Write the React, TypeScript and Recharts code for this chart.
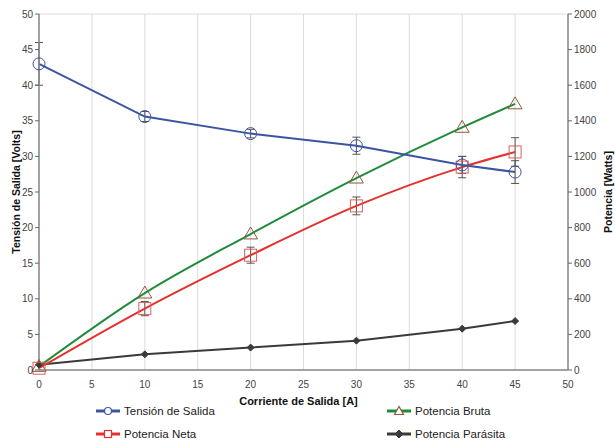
import React from 'react';
import { LineChart, Line, XAxis, YAxis, CartesianGrid, ErrorBar, Label } from 'recharts';

// Corriente de salida [A]
const corriente = [0, 10, 20, 30, 40, 45];
// Tensión de salida [V] (eje izquierdo)
const tension = [43, 35.6, 33.2, 31.5, 28.8, 27.8];
const tensionErr = [3, 0.7, 0.6, 1.2, 1.2, 1.6];
// Potencias [W] (eje derecho)
const potenciaBruta = [20, 432, 764, 1078, 1363, 1495];
const potenciaNeta = [10, 345, 645, 922, 1140, 1225];
const potenciaNetaErr = [0, 40, 45, 50, 60, 80];
const potenciaParasita = [30, 88, 126, 165, 232, 275];

const xTicks = [0, 5, 10, 15, 20, 25, 30, 35, 40, 45, 50];
const leftTicks = [0, 5, 10, 15, 20, 25, 30, 35, 40, 45, 50];
const rightTicks = [0, 200, 400, 600, 800, 1000, 1200, 1400, 1600, 1800, 2000];

const data = corriente.map((c, i) => ({
  corriente: c,
  tension: tension[i],
  tensionErr: tensionErr[i],
  bruta: potenciaBruta[i],
  neta: potenciaNeta[i],
  netaErr: potenciaNetaErr[i],
  parasita: potenciaParasita[i],
}));

const FONT = '"Liberation Sans Narrow", "Arial Narrow", "Liberation Sans", Arial, sans-serif';
const SANS = '"Liberation Sans", Arial, sans-serif';
const BLUE = '#3b55a3';
const GREEN = '#1f8b3b';
const RED = '#e5312e';
const DARK = '#3a3a3a';

const CircleDot = (props: any) => {
  const { cx, cy, index } = props;
  return <circle key={index} cx={cx} cy={cy} r={6} fill="none" stroke={BLUE} strokeWidth={1} />;
};

const TriangleDot = (props: any) => {
  const { cx, cy, index } = props;
  const s = 7;
  const pts = `${cx},${cy - s} ${cx - s},${cy + s * 0.7} ${cx + s},${cy + s * 0.7}`;
  return <polygon key={index} points={pts} fill="none" stroke="#8e5a3a" strokeWidth={1} />;
};

const SquareDot = (props: any) => {
  const { cx, cy, index } = props;
  const s = 6;
  return <rect key={index} x={cx - s} y={cy - s} width={s * 2} height={s * 2} fill="none" stroke="#d9605c" strokeWidth={1} />;
};

const DiamondDot = (props: any) => {
  const { cx, cy, index } = props;
  const s = 3.5;
  const pts = `${cx},${cy - s} ${cx + s},${cy} ${cx},${cy + s} ${cx - s},${cy}`;
  return <polygon key={index} points={pts} fill={DARK} stroke={DARK} strokeWidth={1} />;
};

const legendItems = [
  { name: 'Tensión de Salida', color: BLUE, shape: 'circle', x: 95, y: 411 },
  { name: 'Potencia Neta', color: RED, shape: 'square', x: 95, y: 434 },
  { name: 'Potencia Bruta', color: GREEN, shape: 'triangle', x: 386, y: 411 },
  { name: 'Potencia Parásita', color: DARK, shape: 'diamond', x: 386, y: 434 },
];

const LegendIcon = ({ shape, color }: { shape: string; color: string }) => (
  <svg width={26} height={12} style={{ display: 'block' }}>
    <line x1={1} y1={6} x2={25} y2={6} stroke={color} strokeWidth={3} />
    {shape === 'circle' && <circle cx={13} cy={6} r={3.5} fill="#fff" stroke={color} strokeWidth={1.2} />}
    {shape === 'square' && <rect x={9.5} y={2.5} width={7} height={7} fill="#fff" stroke={color} strokeWidth={1.2} />}
    {shape === 'triangle' && <polygon points="13,1.5 8.5,9.5 17.5,9.5" fill="#fff" stroke="#8e5a3a" strokeWidth={1.2} />}
    {shape === 'diamond' && <polygon points="13,2 17,6 13,10 9,6" fill={color} stroke={color} />}
  </svg>
);

const AxisTitle = ({ viewBox, value, dx }: any) => {
  const x = viewBox.x + dx;
  const y = viewBox.y + viewBox.height / 2;
  return (
    <text x={x} y={y} transform={`rotate(-90 ${x} ${y})`} textAnchor="middle" dominantBaseline="central"
      fontFamily={SANS} fontWeight="bold" fontSize={10.5} fill="#111">
      {value}
    </text>
  );
};

export default function App() {
  return (
    <div style={{ position: 'relative', width: 615, height: 443, background: '#fff', fontFamily: FONT }}>
      <style>{'body{margin:0}'}</style>
      <LineChart width={615} height={443} data={data} margin={{ top: 14, right: 0, bottom: 43, left: 0 }}>
        <CartesianGrid stroke="#dcdcdc" strokeWidth={1} />
        <XAxis
          dataKey="corriente"
          type="number"
          domain={[0, 50]}
          ticks={xTicks}
          height={30}
          axisLine={{ stroke: '#888', strokeWidth: 1.5 }}
          tickLine={false}
          tick={{ fontSize: 10, fill: '#444', fontFamily: SANS }}
          tickMargin={5}
        >
          <Label value="Corriente de Salida [A]" position="bottom" offset={-3} dx={-5}
            style={{ fontSize: 11, fontWeight: 'bold', fill: '#111', fontFamily: SANS }} />
        </XAxis>
        <YAxis
          yAxisId="left"
          domain={[0, 50]}
          ticks={leftTicks}
          width={39}
          axisLine={{ stroke: '#888', strokeWidth: 1.5 }}
          tickLine={{ stroke: '#666' }}
          tickSize={4}
          tick={{ fontSize: 10, fill: '#444', fontFamily: SANS }}
          label={<AxisTitle value="Tensión de Salida [Volts]" dx={16} />}
        />
        <YAxis
          yAxisId="right"
          orientation="right"
          domain={[0, 2000]}
          ticks={rightTicks}
          width={47}
          axisLine={{ stroke: '#888', strokeWidth: 1.5 }}
          tickLine={{ stroke: '#666' }}
          tickSize={4}
          tick={{ fontSize: 10, fill: '#444', fontFamily: SANS }}
          label={<AxisTitle value="Potencia [Watts]" dx={40} />}
        />
        <Line yAxisId="right" dataKey="parasita" stroke={DARK} strokeWidth={2} dot={<DiamondDot />} isAnimationActive={false} />
        <Line yAxisId="right" type="monotone" dataKey="bruta" stroke={GREEN} strokeWidth={2} dot={<TriangleDot />} isAnimationActive={false} />
        <Line yAxisId="right" type="monotone" dataKey="neta" stroke={RED} strokeWidth={2} dot={<SquareDot />} isAnimationActive={false}>
          <ErrorBar dataKey="netaErr" width={4} stroke="#555" strokeWidth={1} direction="y" />
        </Line>
        <Line yAxisId="left" dataKey="tension" stroke={BLUE} strokeWidth={2} dot={<CircleDot />} isAnimationActive={false}>
          <ErrorBar dataKey="tensionErr" width={4} stroke="#555" strokeWidth={1} direction="y" />
        </Line>
      </LineChart>
      {legendItems.map((it) => (
        <div key={it.name} style={{ position: 'absolute', left: it.x, top: it.y - 7, display: 'flex', alignItems: 'center', gap: 3, fontSize: 11.5, color: '#222', fontFamily: FONT, lineHeight: '14px' }}>
          <LegendIcon shape={it.shape} color={it.color} />
          <span>{it.name}</span>
        </div>
      ))}
    </div>
  );
}
